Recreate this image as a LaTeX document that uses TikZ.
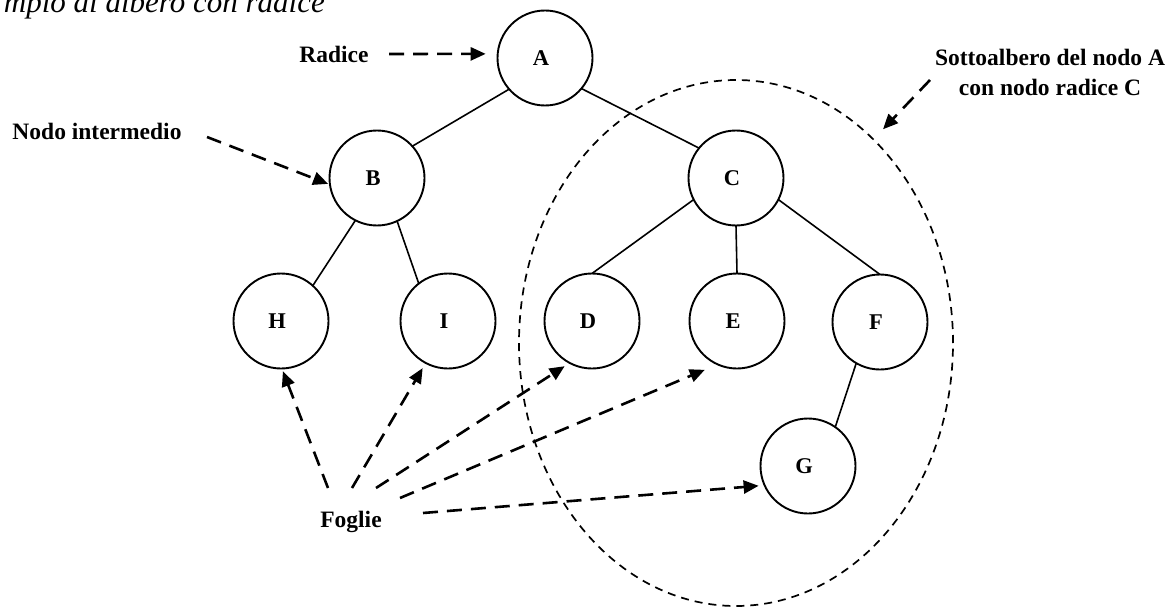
\documentclass[tikz,border=0pt]{standalone}
\usepackage{fontspec}
\setmainfont{Liberation Serif}
\usetikzlibrary{arrows.meta,shapes.geometric}

% letter inside a tree node, set slightly left of the centre
\newcommand\nodeletter[1]{#1\kern8pt}

\begin{document}
\begin{tikzpicture}[x=1pt,y=-1pt,
  treenode/.style={circle,draw,line width=1.9pt,minimum size=95pt,inner sep=0pt,outer sep=0pt,
    font=\fontsize{22.5}{26}\selectfont\bfseries},
  edge/.style={line width=1.6pt},
  callout/.style={line width=2.6pt,dash pattern=on 15pt off 9pt,
    -{Triangle[length=15pt,width=13pt]}},
  lbl/.style={font=\fontsize{23.5}{30}\selectfont\bfseries,inner sep=0pt},
  region/.style={ellipse,draw,line width=1.7pt,dash pattern=on 8pt off 6pt,
    minimum width=434pt,minimum height=526pt,inner sep=0pt,outer sep=0pt}]

\useasboundingbox (0,0) rectangle (1175,607);
\clip (0,0) rectangle (1175,607);

% caption
\node[font=\fontsize{31}{36}\selectfont\itshape,anchor=base east,inner sep=0pt] (title)
  at (325,12.5) {mpio di albero con radice};

% subtree region
\node[region] (sub) at (736,343) {};

% tree nodes
\node[treenode] (A) at (545,58)  {\nodeletter{A}};
\node[treenode] (B) at (377,178) {\nodeletter{B}};
\node[treenode] (C) at (736,178) {\nodeletter{C}};
\node[treenode] (H) at (281,321) {\nodeletter{H}};
\node[treenode] (I) at (448,321) {\nodeletter{I}};
\node[treenode] (D) at (592,321) {\nodeletter{D}};
\node[treenode] (E) at (737,321) {\nodeletter{E}};
\node[treenode] (F) at (880,322) {\nodeletter{F}};
\node[treenode] (G) at (808,466) {\nodeletter{G}};

% tree edges
\draw[edge] (A.221) -- (B.42);
\draw[edge] (A.320) -- (C.141);
\draw[edge] (B.243) -- (H.48);
\draw[edge] (B.295) -- (I.128);
\draw[edge] (C.207) -- (D.90);
\draw[edge] (C.270) -- (E.90);
\draw[edge] (C.333) -- (F.90);
\draw[edge] (F.240) -- (G.55);

% labels
\node[lbl] (radice) at (334,54) {Radice};
\node[lbl] (interm) at (97,131) {Nodo intermedio};
\node[lbl,align=center] (sotto) at (1050,72) {Sottoalbero del nodo A\\con nodo radice C};
\node[lbl] (foglie) at (351,522) {Foglie};

% arrow starting points
\coordinate (r0) at (389,54);
\coordinate (n0) at (207,137);
\coordinate (s0) at (930,80);
\coordinate (f1) at (328,488);
\coordinate (f2) at (352,488);
\coordinate (f3) at (376,488);
\coordinate (f4) at (400,498);
\coordinate (f5) at (423,513);

% callout arrows
\draw[callout,shorten >=12pt] (r0) -- (A.175);
\draw[callout,shorten >=2pt]  (n0) -- (B.188);
\draw[callout,shorten >=14pt] (s0) -- (sub.56);
\draw[callout,shorten >=3pt]  (f1) -- (H.271);
\draw[callout,shorten >=6pt]  (f2) -- (I.242);
\draw[callout,shorten >=6pt]  (f3) -- (D.242);
\draw[callout,shorten >=14pt] (f4) -- (E.246);
\draw[callout,shorten >=6pt]  (f5) -- (G.204);
\end{tikzpicture}
\end{document}
